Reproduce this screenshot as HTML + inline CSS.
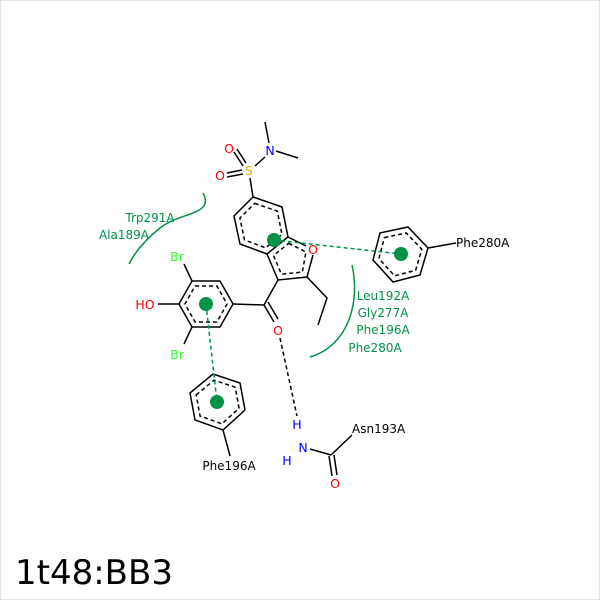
<!DOCTYPE html>
<html><head><meta charset="utf-8"><style>
html,body{margin:0;padding:0;background:#fff}
svg{display:block}
text{font-family:"DejaVu Sans","Liberation Sans",sans-serif}
</style></head><body>
<svg width="600" height="600" viewBox="0 0 600 600" xmlns="http://www.w3.org/2000/svg">
<rect x="0.5" y="0.5" width="599" height="599" fill="#fff" stroke="#e6e6e6"/>
<g fill="none" stroke="#000" stroke-width="1.5">
 <!-- benzene of benzofuran -->
 <polygon points="253,197 282,207 288,237 267,254 240,244 234,216"/>
 <polygon points="253,197 282,207 288,237 267,254 240,244 234,216" stroke-dasharray="4,3" transform="translate(260.7,225.8) scale(0.78) translate(-260.7,-225.8)" vector-effect="non-scaling-stroke"/>
 <!-- furan -->
 <polyline points="288,237 306,246"/>
 <polyline points="313,255 307,277 278,280 267,254"/>
 <polygon points="288,237 312,249 307,277 278,280 267,254" stroke-dasharray="4,3" transform="translate(290.4,259.4) scale(0.72) translate(-290.4,-259.4)" vector-effect="non-scaling-stroke"/>
 <!-- ethyl -->
 <polyline points="307,277 327,298 318,325"/>
 <!-- sulfonyl -->
 <line x1="253" y1="197" x2="250" y2="178"/>
 <line x1="255" y1="166" x2="265" y2="157"/>
 <line x1="265" y1="122" x2="269" y2="143"/>
 <line x1="276" y1="151" x2="298" y2="158"/>
 <line x1="243" y1="166" x2="234" y2="152"/>
 <line x1="246" y1="163" x2="237" y2="149"/>
 <line x1="242" y1="170" x2="227" y2="173"/>
 <line x1="243" y1="174" x2="227" y2="177"/>
 <!-- carbonyl -->
 <line x1="278" y1="280" x2="264" y2="305"/>
 <line x1="264" y1="305" x2="233" y2="304"/>
 <line x1="264" y1="305" x2="274" y2="322"/>
 <line x1="268" y1="302" x2="278" y2="319"/>
 <!-- phenol ring -->
 <polygon points="192,281 220,281 233,304 220,327 192,327 179,304"/>
 <polygon points="192,281 220,281 233,304 220,327 192,327 179,304" stroke-dasharray="4,3" transform="translate(206,304) scale(0.78) translate(-206,-304)" vector-effect="non-scaling-stroke"/>
 <line x1="192" y1="281" x2="184" y2="264"/>
 <line x1="192" y1="327" x2="184" y2="344"/>
 <line x1="179" y1="304" x2="158" y2="304"/>
 <!-- Phe280 -->
 <polygon points="380,233 408,227 428,248 420,275 393,282 373,260"/>
 <polygon points="380,233 408,227 428,248 420,275 393,282 373,260" stroke-dasharray="4,3" transform="translate(400,254) scale(0.78) translate(-400,-254)" vector-effect="non-scaling-stroke"/>
 <line x1="428" y1="248" x2="456" y2="243"/>
 <!-- Phe196 -->
 <polygon points="190,393 213,374 240,383 245,410 223,430 195,420"/>
 <polygon points="190,393 213,374 240,383 245,410 223,430 195,420" stroke-dasharray="4,3" transform="translate(218,402) scale(0.78) translate(-218,-402)" vector-effect="non-scaling-stroke"/>
 <line x1="223" y1="430" x2="230" y2="456"/>
 <!-- Asn -->
 <line x1="310" y1="449" x2="331" y2="455"/>
 <line x1="331" y1="455" x2="352" y2="435"/>
 <line x1="329" y1="456" x2="332" y2="476"/>
 <line x1="334" y1="455" x2="337" y2="475"/>
 <!-- H-bond -->
 <line x1="280" y1="338" x2="297" y2="416" stroke-dasharray="4,3"/>
</g>
<g stroke="#009245" fill="none" stroke-width="1.5">
 <line x1="274" y1="240" x2="401" y2="254" stroke-dasharray="4,3"/>
 <line x1="206" y1="304" x2="217" y2="402" stroke-dasharray="4,3"/>
 <path d="M203,193 C215,215 180,212 160,228 C145,240 135,252 129,264"/>
 <path d="M352,265 C360,300 350,345 310,357"/>
</g>
<g fill="#009245">
 <circle cx="274" cy="240" r="7"/>
 <circle cx="206" cy="304" r="7"/>
 <circle cx="401" cy="254" r="7"/>
 <circle cx="217" cy="402" r="7"/>
</g>
<g font-size="12.5">
 <text x="229" y="153" fill="#f00" text-anchor="middle">O</text>
 <text x="220" y="180" fill="#f00" text-anchor="middle">O</text>
 <text x="249" y="175" fill="#ffa500" text-anchor="middle">S</text>
 <text x="270" y="155" fill="#00f" text-anchor="middle">N</text>
 <text x="313" y="254" fill="#f00" text-anchor="middle">O</text>
 <text x="278" y="335" fill="#f00" text-anchor="middle">O</text>
 <text x="177" y="261" fill="#33ff33" text-anchor="middle">Br</text>
 <text x="177" y="359" fill="#33ff33" text-anchor="middle">Br</text>
 <text x="145" y="309" fill="#f00" text-anchor="middle">HO</text>
 <text x="297" y="429" fill="#00f" text-anchor="middle">H</text>
 <text x="303" y="452" fill="#00f" text-anchor="middle">N</text>
 <text x="287" y="465" fill="#00f" text-anchor="middle">H</text>
 <text x="335" y="488" fill="#f00" text-anchor="middle">O</text>
</g>
<g font-size="12" fill="#000">
 <text x="456" y="247">Phe280A</text>
 <text x="352" y="433">Asn193A</text>
 <text x="229" y="470" text-anchor="middle">Phe196A</text>
</g>
<g font-size="12" fill="#009245" text-anchor="middle">
 <text x="150" y="222">Trp291A</text>
 <text x="124" y="239">Ala189A</text>
 <text x="383" y="300">Leu192A</text>
 <text x="383" y="317">Gly277A</text>
 <text x="383" y="334">Phe196A</text>
 <text x="375" y="352">Phe280A</text>
</g>
<text x="15" y="584" font-size="34" fill="#000">1t48:BB3</text>
</svg>
</body></html>
